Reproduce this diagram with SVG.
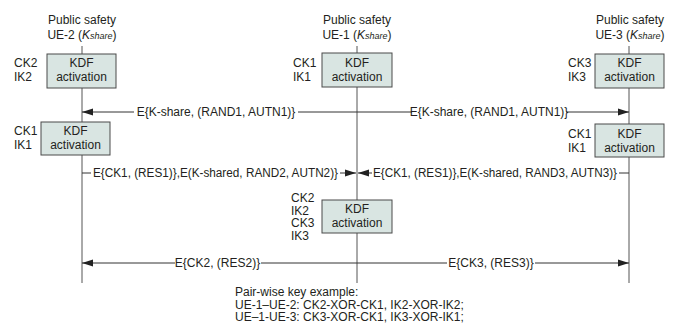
<svg xmlns="http://www.w3.org/2000/svg" width="674" height="324" viewBox="0 0 674 324">
<style>
text{font-family:"Liberation Sans",Arial,sans-serif;font-size:12px;fill:#231f20}
.m{text-anchor:middle}
.box{fill:#d9e5e2;stroke:#4a4a4a;stroke-width:1}
.life{stroke:#555;stroke-width:1}
.ln{stroke:#333;stroke-width:1;fill:none}
.arr{marker-end:url(#ah)}
.sub{font-style:italic;font-size:9px}
.it{font-style:italic}
</style>
<defs>
<marker id="ah" markerWidth="11" markerHeight="8" refX="11" refY="4" orient="auto" markerUnits="userSpaceOnUse">
<path d="M0,0.5 L11,4 L0,7.5 z" fill="#222"/>
</marker>
</defs>
<rect width="674" height="324" fill="#fff"/>
<g id="lifelines">
<line class="life" x1="82" y1="46" x2="82" y2="283"/>
<line class="life" x1="357" y1="46" x2="357" y2="283"/>
<line class="life" x1="629" y1="46" x2="629" y2="283"/>
</g>
<g id="ue2-title">
<text class="m" x="82" y="24">Public safety</text>
<text class="m" x="82" y="38.5">UE-2 (<tspan class="it">K</tspan><tspan class="sub">share</tspan>)</text>
</g>
<g id="ue1-title">
<text class="m" x="357" y="24">Public safety</text>
<text class="m" x="357" y="38.5">UE-1 (<tspan class="it">K</tspan><tspan class="sub">share</tspan>)</text>
</g>
<g id="ue3-title">
<text class="m" x="630" y="24">Public safety</text>
<text class="m" x="630" y="38.5">UE-3 (<tspan class="it">K</tspan><tspan class="sub">share</tspan>)</text>
</g>
<g id="ue2-kdf1">
<rect class="box" x="47" y="54" width="69" height="34"/>
<text class="m" x="81.5" y="67">KDF</text>
<text class="m" x="81.5" y="81">activation</text>
<text x="14" y="67">CK2</text>
<text x="14" y="81">IK2</text>
</g>
<g id="ue1-kdf1">
<rect class="box" x="322" y="53" width="70" height="34"/>
<text class="m" x="357" y="66.5">KDF</text>
<text class="m" x="357" y="80.5">activation</text>
<text x="293" y="66.5">CK1</text>
<text x="293" y="80.5">IK1</text>
</g>
<g id="ue3-kdf1">
<rect class="box" x="595" y="54" width="69" height="34"/>
<text class="m" x="629.5" y="67">KDF</text>
<text class="m" x="629.5" y="81">activation</text>
<text x="568" y="67">CK3</text>
<text x="568" y="81">IK3</text>
</g>
<g id="ue2-kdf2">
<rect class="box" x="41" y="122" width="69" height="33"/>
<text class="m" x="75.5" y="135">KDF</text>
<text class="m" x="75.5" y="149">activation</text>
<text x="14" y="135">CK1</text>
<text x="14" y="149">IK1</text>
</g>
<g id="ue3-kdf2">
<rect class="box" x="595" y="124" width="69" height="33"/>
<text class="m" x="629.5" y="137.5">KDF</text>
<text class="m" x="629.5" y="151.5">activation</text>
<text x="568" y="137.5">CK1</text>
<text x="568" y="151.5">IK1</text>
</g>
<g id="ue1-kdf2">
<rect class="box" x="322" y="200" width="70" height="33"/>
<text class="m" x="357" y="213">KDF</text>
<text class="m" x="357" y="227">activation</text>
<text x="291" y="202">CK2</text>
<text x="291" y="214.5">IK2</text>
<text x="291" y="227">CK3</text>
<text x="291" y="239.5">IK3</text>
</g>
<g id="connectors">
<line class="ln arr" x1="134" y1="112" x2="82" y2="112"/>
<line class="ln" x1="298" y1="112" x2="412" y2="112"/>
<line class="ln arr" x1="566" y1="112" x2="629" y2="112"/>
<line class="ln" x1="82" y1="173" x2="91" y2="173"/>
<line class="ln arr" x1="340" y1="173" x2="356" y2="173"/>
<line class="ln" x1="629" y1="173" x2="619" y2="173"/>
<line class="ln arr" x1="372" y1="173" x2="358" y2="173"/>
<line class="ln arr" x1="175" y1="263" x2="82" y2="263"/>
<line class="ln" x1="261" y1="263" x2="447" y2="263"/>
<line class="ln arr" x1="535" y1="263" x2="629" y2="263"/>
</g>
<g id="labels">
<text class="m" x="216" y="116">E{K-share, (RAND1, AUTN1)}</text>
<text class="m" x="489" y="116">E{K-share, (RAND1, AUTN1)}</text>
<text x="93" y="177" textLength="245" lengthAdjust="spacingAndGlyphs">E{CK1, (RES1)},E(K-shared, RAND2, AUTN2)}</text>
<text x="373" y="177" textLength="244" lengthAdjust="spacingAndGlyphs">E{CK1, (RES1)},E(K-shared, RAND3, AUTN3)}</text>
<text class="m" x="217.5" y="267">E{CK2, (RES2)}</text>
<text class="m" x="491" y="267">E{CK3, (RES3)}</text>
</g>
<g id="note">
<text x="235" y="296">Pair-wise key example:</text>
<text x="235" y="308.5">UE-1–UE-2: CK2-XOR-CK1, IK2-XOR-IK2;</text>
<text x="235" y="321">UE–1-UE-3: CK3-XOR-CK1, IK3-XOR-IK1;</text>
</g>
</svg>
